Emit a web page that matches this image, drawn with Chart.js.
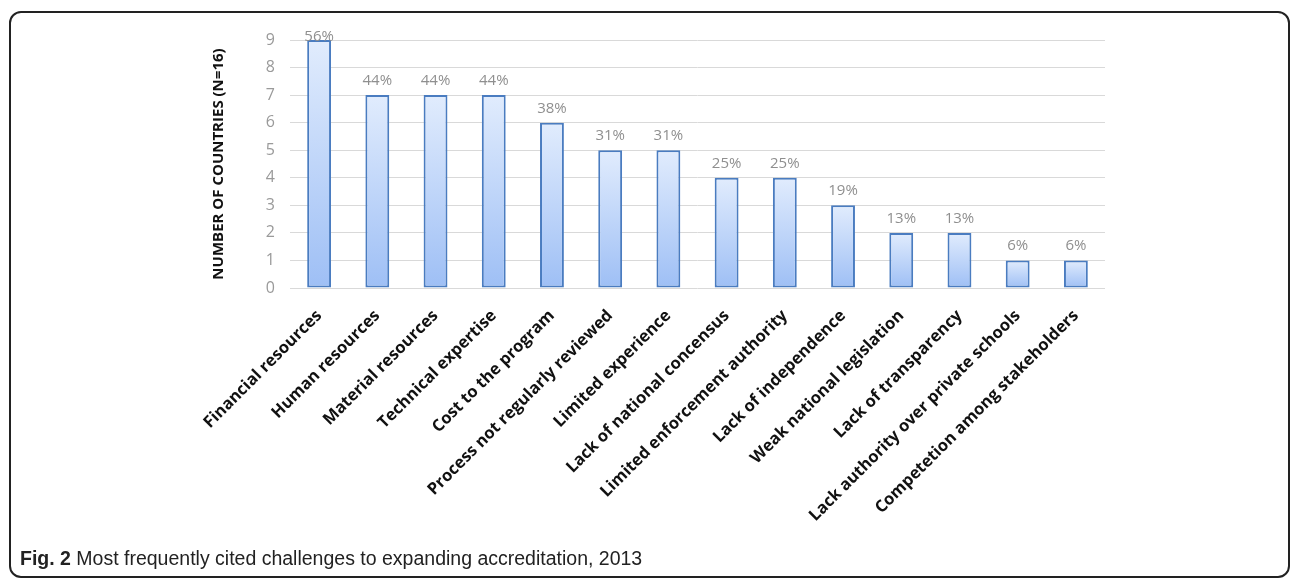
<!DOCTYPE html>
<html>
<head>
<meta charset="utf-8">
<script src="https://cdn.jsdelivr.net/npm/chart.js@4.4.1/dist/chart.umd.min.js"></script>
<style>
  html, body { margin: 0; padding: 0; background: #fff; width: 1296px; height: 581px; overflow: hidden; }
  #frame { position: absolute; left: 9px; top: 11px; width: 1277px; height: 563px; border: 2px solid #222; border-radius: 12px; }
  #wrap { position: absolute; left: 0; top: 0; width: 1296px; height: 581px; }
  #caption { position: absolute; left: 20px; top: 547px; font-family: "Liberation Sans Narrow", "Liberation Sans", sans-serif; font-size: 19.5px; color: #222; white-space: nowrap; }
  #caption b { font-weight: bold; }
</style>
</head>
<body>
<div id="frame"></div>
<div id="wrap"><canvas id="c" width="1296" height="581"></canvas></div>
<div id="caption"><b>Fig. 2</b> Most frequently cited challenges to expanding accreditation, 2013</div>
<script>
const categories = [
  "Financial resources", "Human resources", "Material resources", "Technical expertise",
  "Cost to the program", "Process not regularly reviewed", "Limited experience",
  "Lack of national concensus", "Limited enforcement authority", "Lack of independence",
  "Weak national legislation", "Lack of transparency", "Lack authority over private schools",
  "Competetion among stakeholders"
];
const countries = [9, 7, 7, 7, 6, 5, 5, 4, 4, 3, 2, 2, 1, 1];
const percentLabels = ["56%", "44%", "44%", "44%", "38%", "31%", "31%", "25%", "25%", "19%", "13%", "13%", "6%", "6%"];
const yTicks = [0, 1, 2, 3, 4, 5, 6, 7, 8, 9];
const yTitle = "NUMBER OF COUNTRIES (N=16)";

function barGradient(ctx) {
  const chart = ctx.chart;
  if (!chart.chartArea || !chart.scales.y) return "#c5d9f9";
  const y = chart.scales.y;
  const v = countries[ctx.dataIndex];
  const top = y.getPixelForValue(v);
  const bottom = y.getPixelForValue(0);
  const g = chart.ctx.createLinearGradient(0, top, 0, bottom);
  g.addColorStop(0, "#e1ecfd");
  g.addColorStop(1, "#9ebff5");
  return g;
}

const pctLabelPlugin = {
  id: "pctLabels",
  afterDatasetsDraw(chart) {
    const meta = chart.getDatasetMeta(0);
    const c = chart.ctx;
    c.save();
    c.font = "15px 'Open Sans', 'Liberation Sans', sans-serif";
    c.fillStyle = "#8f8f8f";
    c.textAlign = "center";
    c.textBaseline = "alphabetic";
    meta.data.forEach((bar, i) => {
      const yb = Math.max(bar.y - 10, chart.chartArea.top + 1);
      c.fillText(percentLabels[i], bar.x, yb);
    });
    c.restore();
  }
};

new Chart(document.getElementById("c"), {
  type: "bar",
  data: {
    labels: categories,
    datasets: [{
      data: countries,
      backgroundColor: barGradient,
      borderColor: "#4a7cc0",
      borderWidth: 2,
      borderSkipped: false,
      barPercentage: 0.41,
      categoryPercentage: 1.0
    }]
  },
  options: {
    responsive: false,
    animation: false,
    devicePixelRatio: 1,
    layout: { padding: { top: 40, right: 191, left: 0, bottom: 0 } },
    plugins: { legend: { display: false }, tooltip: { enabled: false } },
    scales: {
      x: {
        grid: { display: false, drawTicks: false },
        border: { display: false },
        ticks: {
          minRotation: 45, maxRotation: 45, autoSkip: false, padding: 18,
          color: "#111",
          font: { family: "'Open Sans', 'Liberation Sans', sans-serif", size: 16.5, weight: "bold" }
        },
        afterFit(scale) { scale.height = 581 - 288; }
      },
      y: {
        min: 0, max: 9,
        afterBuildTicks(scale) { scale.ticks = yTicks.map(v => ({ value: v })); },
        grid: { color: "#d9d9d9", lineWidth: 1, drawTicks: false },
        border: { display: false },
        ticks: {
          padding: 15,
          color: "#9a9a9a",
          font: { family: "'Open Sans', 'Liberation Sans', sans-serif", size: 16 }
        },
        title: {
          display: true, text: yTitle, color: "#111",
          padding: { top: 210, bottom: 0 },
          font: { family: "'Open Sans', 'Liberation Sans', sans-serif", size: 15, weight: "bold" }
        },
        afterFit(scale) { scale.width = 290; }
      }
    }
  },
  plugins: [pctLabelPlugin]
});
</script>
</body>
</html>
